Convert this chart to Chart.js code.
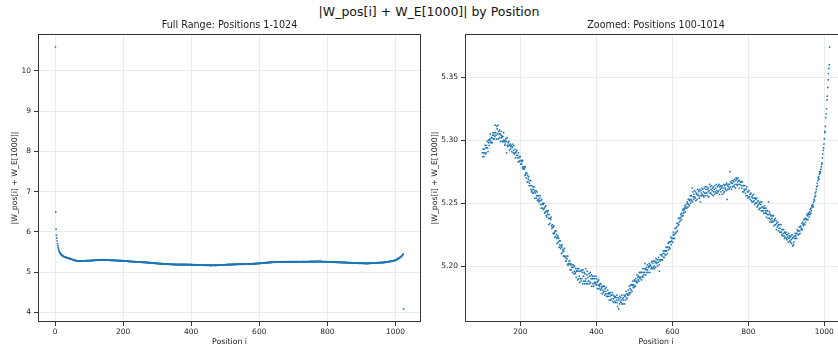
<!DOCTYPE html>
<html><head><meta charset="utf-8">
<script src="https://cdn.jsdelivr.net/npm/chart.js@4.4.0/dist/chart.umd.min.js"></script>
<style>
html,body{margin:0;padding:0;background:#fff;overflow:hidden;width:838px;height:347px;position:relative;}
#sup{position:absolute;top:4px;left:229px;width:400px;text-align:center;font-family:"DejaVu Sans";font-size:12.5px;line-height:15px;color:#111;white-space:nowrap;}
#w1{position:absolute;left:0;top:0;width:430px;height:347px;}
#w2{position:absolute;left:420px;top:0;width:430px;height:347px;}
</style></head><body>
<div id="sup">|W_pos[i] + W_E[1000]| by Position</div>
<div id="w1"><canvas id="c1" width="430" height="347"></canvas></div>
<div id="w2"><canvas id="c2" width="430" height="347"></canvas></div>
<script>
// Positions 1..99
const headValues = [
10.59,6.49,6.07,5.92,5.85,5.78,5.71,5.66,5.62,5.585,
5.553,5.527,5.505,5.487,5.472,5.460,5.449,5.440,5.431,5.423,
5.416,5.410,5.404,5.399,5.394,5.389,5.385,5.381,5.377,5.374,
5.371,5.368,5.366,5.363,5.361,5.358,5.356,5.353,5.351,5.348,
5.345,5.342,5.340,5.336,5.334,5.330,5.328,5.324,5.322,5.318,
5.315,5.313,5.309,5.307,5.303,5.301,5.298,5.296,5.293,5.292,
5.289,5.288,5.285,5.285,5.282,5.283,5.280,5.281,5.278,5.280,
5.277,5.279,5.276,5.279,5.277,5.280,5.278,5.281,5.279,5.282,
5.280,5.283,5.281,5.284,5.282,5.285,5.283,5.286,5.284,5.287,
5.285,5.288,5.286,5.289,5.287,5.290,5.288,5.291,5.288
];
// Positions 100..1014
const zoomValues = [
5.290,5.287,5.293,5.290,5.287,5.293,5.290,5.296,5.289,5.294,
5.290,5.296,5.294,5.299,5.294,5.291,5.300,5.298,5.296,5.300,
5.301,5.305,5.299,5.298,5.302,5.302,5.298,5.304,5.306,5.301,
5.304,5.301,5.306,5.303,5.312,5.306,5.304,5.301,5.311,5.309,
5.305,5.312,5.301,5.307,5.305,5.308,5.302,5.305,5.299,5.304,
5.307,5.302,5.303,5.299,5.303,5.299,5.306,5.300,5.299,5.296,
5.297,5.299,5.301,5.299,5.290,5.302,5.296,5.295,5.298,5.296,
5.299,5.292,5.296,5.297,5.293,5.295,5.296,5.291,5.294,5.297,
5.295,5.290,5.292,5.296,5.289,5.290,5.293,5.286,5.290,5.291,
5.288,5.292,5.286,5.288,5.283,5.290,5.286,5.283,5.287,5.284,
5.287,5.281,5.284,5.281,5.283,5.278,5.284,5.279,5.277,5.279,
5.277,5.278,5.272,5.279,5.273,5.274,5.270,5.274,5.267,5.272,
5.267,5.269,5.271,5.264,5.266,5.268,5.264,5.268,5.261,5.259,
5.264,5.260,5.258,5.263,5.261,5.258,5.263,5.259,5.254,5.260,
5.258,5.260,5.254,5.256,5.259,5.252,5.256,5.253,5.256,5.251,
5.252,5.254,5.256,5.249,5.252,5.246,5.253,5.249,5.246,5.250,
5.249,5.245,5.250,5.246,5.242,5.247,5.243,5.248,5.240,5.244,
5.239,5.243,5.241,5.244,5.238,5.233,5.241,5.238,5.234,5.238,
5.237,5.239,5.232,5.230,5.233,5.231,5.226,5.231,5.232,5.226,
5.227,5.223,5.228,5.223,5.228,5.225,5.222,5.218,5.223,5.224,
5.219,5.222,5.215,5.220,5.217,5.220,5.214,5.216,5.210,5.215,
5.217,5.211,5.213,5.208,5.212,5.208,5.214,5.208,5.207,5.204,
5.204,5.206,5.208,5.206,5.201,5.208,5.202,5.201,5.204,5.202,
5.204,5.197,5.201,5.202,5.197,5.199,5.201,5.195,5.199,5.201,
5.199,5.194,5.196,5.200,5.194,5.195,5.198,5.191,5.196,5.196,
5.198,5.189,5.196,5.190,5.198,5.192,5.187,5.196,5.190,5.196,
5.188,5.197,5.190,5.195,5.186,5.197,5.192,5.188,5.195,5.186,
5.194,5.188,5.198,5.190,5.186,5.193,5.196,5.186,5.191,5.188,
5.188,5.194,5.186,5.192,5.195,5.187,5.190,5.193,5.184,5.190,
5.192,5.186,5.190,5.184,5.192,5.187,5.190,5.186,5.187,5.192,
5.185,5.190,5.187,5.182,5.188,5.185,5.189,5.182,5.185,5.184,
5.186,5.181,5.186,5.182,5.183,5.178,5.184,5.181,5.179,5.184,
5.180,5.184,5.177,5.182,5.178,5.180,5.183,5.176,5.178,5.176,
5.181,5.176,5.178,5.179,5.173,5.178,5.176,5.179,5.173,5.177,
5.174,5.177,5.179,5.172,5.177,5.174,5.171,5.176,5.175,5.172,
5.176,5.171,5.175,5.173,5.177,5.171,5.168,5.175,5.173,5.166,
5.174,5.170,5.176,5.172,5.175,5.171,5.173,5.177,5.170,5.174,
5.170,5.175,5.173,5.177,5.170,5.176,5.177,5.173,5.180,5.175,
5.178,5.174,5.178,5.177,5.181,5.177,5.179,5.184,5.178,5.182,
5.179,5.185,5.181,5.185,5.180,5.185,5.188,5.183,5.185,5.183,
5.189,5.184,5.188,5.184,5.190,5.188,5.187,5.193,5.187,5.191,
5.189,5.192,5.188,5.195,5.191,5.190,5.195,5.191,5.195,5.189,
5.195,5.192,5.198,5.191,5.195,5.193,5.198,5.195,5.202,5.198,
5.193,5.197,5.199,5.195,5.201,5.197,5.195,5.200,5.199,5.202,
5.200,5.195,5.201,5.200,5.198,5.203,5.199,5.204,5.198,5.202,
5.199,5.204,5.200,5.198,5.204,5.203,5.199,5.206,5.202,5.203,
5.205,5.200,5.205,5.203,5.207,5.201,5.196,5.205,5.204,5.209,
5.205,5.209,5.205,5.208,5.205,5.210,5.212,5.207,5.210,5.207,
5.212,5.209,5.212,5.209,5.215,5.212,5.215,5.210,5.215,5.218,
5.213,5.219,5.215,5.219,5.214,5.219,5.223,5.217,5.220,5.222,
5.222,5.219,5.225,5.227,5.222,5.225,5.222,5.230,5.226,5.230,
5.227,5.231,5.234,5.228,5.234,5.232,5.238,5.233,5.235,5.238,
5.238,5.236,5.241,5.239,5.237,5.242,5.240,5.245,5.240,5.244,
5.242,5.246,5.245,5.248,5.243,5.247,5.246,5.249,5.246,5.251,
5.250,5.247,5.253,5.249,5.253,5.248,5.252,5.256,5.250,5.253,
5.256,5.252,5.262,5.251,5.259,5.255,5.253,5.257,5.260,5.255,
5.254,5.259,5.252,5.258,5.257,5.253,5.261,5.257,5.256,5.260,
5.259,5.254,5.261,5.256,5.251,5.260,5.258,5.256,5.262,5.257,
5.261,5.256,5.259,5.255,5.262,5.258,5.256,5.263,5.258,5.261,
5.258,5.263,5.256,5.261,5.259,5.262,5.255,5.260,5.265,5.258,
5.263,5.258,5.261,5.264,5.257,5.260,5.262,5.256,5.263,5.259,
5.261,5.257,5.264,5.259,5.262,5.258,5.265,5.260,5.258,5.263,
5.259,5.264,5.260,5.265,5.257,5.263,5.261,5.264,5.259,5.262,
5.263,5.257,5.264,5.260,5.262,5.258,5.265,5.259,5.264,5.262,
5.261,5.265,5.260,5.266,5.253,5.264,5.261,5.265,5.263,5.261,
5.265,5.262,5.275,5.267,5.263,5.266,5.261,5.268,5.266,5.263,
5.268,5.264,5.267,5.263,5.269,5.265,5.262,5.268,5.270,5.265,
5.269,5.264,5.267,5.270,5.265,5.268,5.262,5.268,5.265,5.267,
5.267,5.264,5.267,5.262,5.267,5.259,5.264,5.259,5.264,5.261,
5.260,5.264,5.258,5.261,5.256,5.261,5.263,5.256,5.259,5.254,
5.259,5.255,5.260,5.255,5.257,5.253,5.257,5.258,5.252,5.255,
5.251,5.256,5.254,5.251,5.257,5.252,5.254,5.249,5.254,5.250,
5.253,5.250,5.254,5.247,5.251,5.248,5.252,5.249,5.245,5.250,
5.246,5.251,5.246,5.249,5.244,5.251,5.247,5.244,5.247,5.244,
5.246,5.242,5.246,5.248,5.242,5.244,5.246,5.242,5.239,5.244,
5.241,5.244,5.238,5.251,5.241,5.238,5.243,5.235,5.241,5.237,
5.240,5.235,5.238,5.236,5.240,5.235,5.240,5.232,5.236,5.237,
5.233,5.238,5.233,5.236,5.229,5.234,5.231,5.235,5.232,5.228,
5.233,5.230,5.233,5.227,5.230,5.227,5.233,5.227,5.225,5.229,
5.224,5.229,5.226,5.229,5.224,5.222,5.227,5.226,5.223,5.227,
5.222,5.225,5.221,5.225,5.223,5.219,5.226,5.222,5.224,5.220,
5.223,5.219,5.224,5.221,5.218,5.225,5.222,5.216,5.223,5.217,
5.219,5.224,5.222,5.226,5.222,5.224,5.226,5.222,5.226,5.229,
5.228,5.225,5.228,5.225,5.231,5.228,5.226,5.232,5.231,5.229,
5.230,5.234,5.229,5.235,5.233,5.232,5.237,5.234,5.237,5.233,
5.238,5.235,5.238,5.237,5.241,5.237,5.240,5.237,5.242,5.241,
5.239,5.243,5.241,5.245,5.242,5.246,5.244,5.248,5.247,5.248,
5.249,5.247,5.251,5.253,5.252,5.255,5.258,5.256,5.259,5.261,
5.263,5.266,5.264,5.268,5.270,5.271,5.269,5.273,5.275,5.274,
5.275,5.277,5.279,5.281,5.282,5.286,5.289,5.292,5.294,5.297,
5.301,5.306,5.307,5.311,5.318,5.321,5.325,5.332,5.335,5.342,
5.348,5.353,5.357,5.360,5.374
];
// Positions 1015..1024
const tailValues = [5.381,5.388,5.395,5.402,5.410,5.419,5.429,5.440,5.455,4.09];

const firstPosition = 1;
const zoomStart = 100;
const leftXTicks = [0,200,400,600,800,1000];
const leftYTicks = [4,5,6,7,8,9,10];
const rightXTicks = [200,400,600,800,1000];
const rightYTicks = [5.20,5.25,5.30,5.35];

const allValues = headValues.concat(zoomValues, tailValues);
const fullPoints = allValues.map((v,i)=>({x:firstPosition+i,y:v}));
const zoomPoints = zoomValues.map((v,i)=>({x:zoomStart+i,y:v}));

function limits(arr){
  let mn=Infinity,mx=-Infinity;
  for(const v of arr){if(v<mn)mn=v;if(v>mx)mx=v;}
  const m=(mx-mn)*0.05; return [mn-m,mx+m];
}

const FONT='DejaVu Sans';
const TXT='#1c1c1c';

const framePlugin = {
  id:'frame',
  afterDatasetsDraw(chart){
    const {ctx, chartArea:a} = chart;
    ctx.save();
    ctx.strokeStyle='#333';
    ctx.lineWidth=1;
    const l=Math.round(a.left)+0.5, t=Math.round(a.top)+0.5, r=Math.round(a.right)-0.5, b=Math.round(a.bottom)-0.5;
    ctx.strokeRect(l,t,r-l,b-t);
    ctx.restore();
  }
};

function makeChart(id, points, xTicks, yTicks, yWidth, title, yFmt, padRight){
  const xs=limits(points.map(p=>p.x)), ys=limits(points.map(p=>p.y));
  return new Chart(document.getElementById(id), {
    type:'scatter',
    data:{datasets:[{data:points,pointRadius:0.9,pointHoverRadius:0,borderWidth:0,backgroundColor:'#1f77b4'}]},
    options:{
      responsive:false, animation:false, devicePixelRatio:1,
      layout:{padding:{left:0,right:padRight,top:0,bottom:0}},
      plugins:{
        legend:{display:false}, tooltip:{enabled:false},
        title:{display:true,text:title,fullSize:false,color:TXT,
          font:{family:FONT,size:9.6,weight:'normal',lineHeight:1.2},
          padding:{top:20.2,bottom:2.3}}
      },
      scales:{
        x:{type:'linear',min:xs[0],max:xs[1],
          afterBuildTicks:s=>{s.ticks=xTicks.map(v=>({value:v}));},
          afterFit:s=>{s.height=25;},
          ticks:{font:{family:FONT,size:7.5},color:TXT,padding:2,maxRotation:0,autoSkip:false,callback:v=>String(v)},
          grid:{color:'#ebebeb',lineWidth:1,drawTicks:true,tickLength:4,tickColor:'#333'},
          border:{display:false},
          title:{display:true,text:'Position i',color:TXT,font:{family:FONT,size:7.8,lineHeight:1},padding:{top:0,bottom:1}}
        },
        y:{type:'linear',min:ys[0],max:ys[1],
          afterBuildTicks:s=>{s.ticks=yTicks.map(v=>({value:v}));},
          afterFit:s=>{s.width=yWidth;},
          ticks:{font:{family:FONT,size:7.5},color:TXT,padding:3,autoSkip:false,callback:yFmt},
          grid:{color:'#ebebeb',lineWidth:1,drawTicks:true,tickLength:4,tickColor:'#333'},
          border:{display:false},
          title:{display:true,text:'|W_pos[i] + W_E[1000]|',color:TXT,font:{family:FONT,size:7.8,lineHeight:1},padding:{top:11,bottom:0}}
        }
      }
    },
    plugins:[framePlugin]
  });
}

makeChart('c1', fullPoints, leftXTicks, leftYTicks, 38, 'Full Range: Positions 1-1024', v=>String(v), 9);
makeChart('c2', zoomPoints, rightXTicks, rightYTicks, 45, 'Zoomed: Positions 100-1014', v=>Number(v).toFixed(2), 3);
</script>
</body></html>
